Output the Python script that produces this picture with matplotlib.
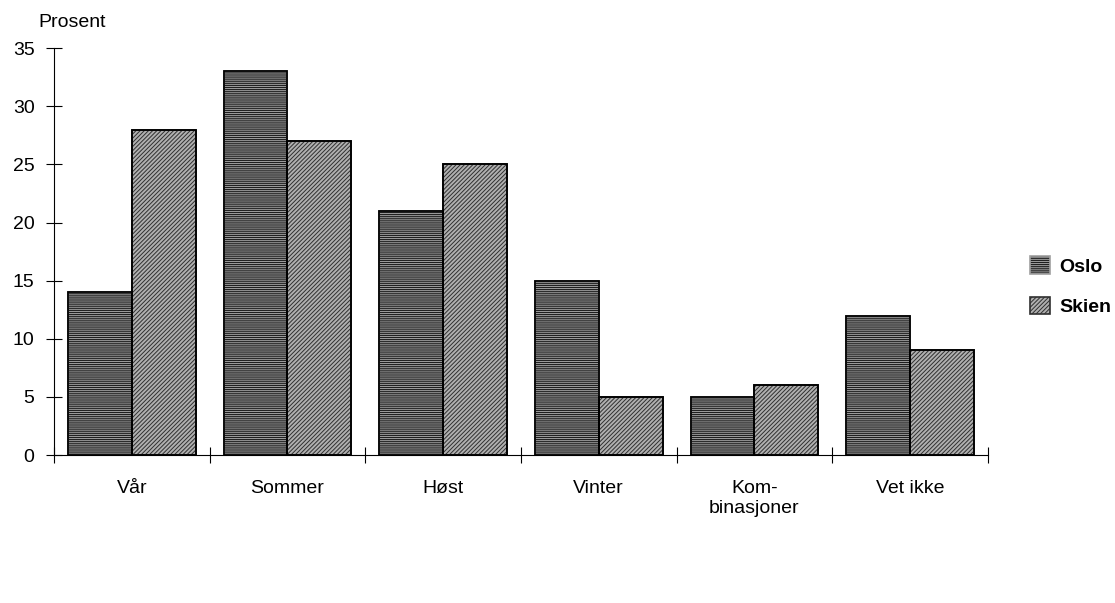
import numpy as np
import matplotlib.pyplot as plt

plt.rcParams['font.family'] = ['Liberation Sans', 'DejaVu Sans']
plt.rcParams['hatch.linewidth'] = 0.7

# Data
kategorier = ['Vår', 'Sommer', 'Høst', 'Vinter', 'Kom-\nbinasjoner', 'Vet ikke']
oslo = [14, 33, 21, 15, 5, 12]
skien = [28, 27, 25, 5, 6, 9]

fig = plt.figure(figsize=(11.15, 6.03), dpi=100)
ax = fig.add_axes([0.0484, 0.2454, 0.8376, 0.6746])

x = np.arange(len(kategorier))
w = 0.41
b1 = ax.bar(x - w/2, oslo, w, facecolor='#1e1e1e', hatch='--------',
            linewidth=1.2, label='Oslo')
b2 = ax.bar(x + w/2, skien, w, facecolor='#b0b0b0', hatch='////////',
            linewidth=1.2, label='Skien')
for p in b1:
    p.set_edgecolor('#a0a0a0')
for p in b2:
    p.set_edgecolor('#303030')
# svart ramme rundt stolpene
ax.bar(x - w/2, oslo, w, fill=False, edgecolor='black', linewidth=1.3)
ax.bar(x + w/2, skien, w, fill=False, edgecolor='black', linewidth=1.3)

ax.set_xlim(-0.5, len(kategorier) - 0.5)
ax.set_ylim(0, 35)
ax.set_yticks(range(0, 36, 5))
ax.set_xticks(np.arange(-0.5, len(kategorier), 1))
ax.set_xticklabels([])
ax.set_xticks(x, minor=True)
ax.set_xticklabels(kategorier, minor=True, fontsize=14)
ax.tick_params(axis='x', which='minor', length=0, pad=18)
ax.tick_params(axis='both', which='major', direction='inout', length=12, width=0.8,
               labelsize=14)
ax.tick_params(axis='y', pad=8)
for s in ['top', 'right']:
    ax.spines[s].set_visible(False)
for s in ['left', 'bottom']:
    ax.spines[s].set_linewidth(0.8)

fig.text(0.034, 0.962, 'Prosent', fontsize=14, ha='left', va='center')

fig.legend(handles=[b1, b2], loc='upper left', bbox_to_anchor=(0.924, 0.575),
           frameon=False, prop={'weight': 'bold', 'size': 14},
           handlelength=1.0, handleheight=1.0, handletextpad=0.5, labelspacing=1.1,
           borderpad=0, borderaxespad=0)

fig.savefig('out.png', dpi=100, facecolor='white')
